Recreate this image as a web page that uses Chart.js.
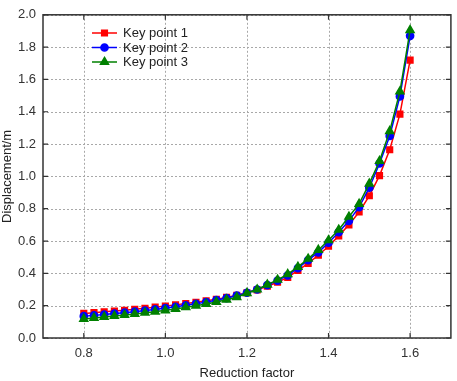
<!DOCTYPE html>
<html>
<head>
<meta charset="utf-8">
<script src="https://cdn.jsdelivr.net/npm/chart.js@4/dist/chart.umd.min.js"></script>
<style>
  html, body { margin: 0; padding: 0; background: #fff; }
  #wrap { width: 457px; height: 381px; position: relative; }
</style>
</head>
<body>
<div id="wrap"><canvas id="chart"></canvas></div>
<script>
// Data
const factors = [0.800, 0.825, 0.850, 0.875, 0.900, 0.925, 0.950, 0.975, 1.000, 1.025, 1.050,
  1.075, 1.100, 1.125, 1.150, 1.175, 1.200, 1.225, 1.250, 1.275, 1.300, 1.325, 1.350,
  1.375, 1.400, 1.425, 1.450, 1.475, 1.500, 1.525, 1.550, 1.575, 1.600];
const keyPoint1 = [0.152, 0.157, 0.162, 0.167, 0.172, 0.178, 0.184, 0.191, 0.198, 0.205, 0.213,
  0.221, 0.230, 0.240, 0.251, 0.264, 0.280, 0.298, 0.320, 0.345, 0.375, 0.418, 0.462,
  0.512, 0.568, 0.632, 0.700, 0.780, 0.880, 1.005, 1.165, 1.385, 1.720];
const keyPoint2 = [0.135, 0.140, 0.145, 0.151, 0.157, 0.163, 0.170, 0.177, 0.185, 0.193, 0.202,
  0.212, 0.222, 0.234, 0.247, 0.262, 0.280, 0.300, 0.327, 0.355, 0.388, 0.432, 0.482,
  0.530, 0.590, 0.655, 0.725, 0.810, 0.930, 1.080, 1.250, 1.495, 1.870];
const keyPoint3 = [0.118, 0.124, 0.130, 0.136, 0.142, 0.149, 0.156, 0.163, 0.171, 0.180, 0.190,
  0.200, 0.211, 0.223, 0.237, 0.252, 0.278, 0.300, 0.330, 0.360, 0.395, 0.440, 0.490,
  0.545, 0.605, 0.670, 0.750, 0.830, 0.955, 1.095, 1.280, 1.525, 1.905];
const seriesNames = ['Key point 1', 'Key point 2', 'Key point 3'];
const xTicks = [0.8, 1.0, 1.2, 1.4, 1.6];
const yTicks = [0, 0.2, 0.4, 0.6, 0.8, 1.0, 1.2, 1.4, 1.6, 1.8, 2.0];

const font = "'Liberation Sans', Arial, sans-serif";

const toPoints = vals => vals.map((v, i) => ({ x: factors[i], y: v }));

// Dotted grid, drawn under the data
const gridPlugin = {
  id: 'dottedGrid',
  beforeDatasetsDraw(chart) {
    const { ctx, chartArea: a, scales } = chart;
    ctx.save();
    ctx.strokeStyle = '#a8a8a8';
    ctx.lineWidth = 1;
    ctx.setLineDash([2, 2]);
    ctx.beginPath();
    xTicks.forEach(t => {
      const px = Math.round(scales.x.getPixelForValue(t)) + 0.5;
      ctx.moveTo(px, a.top); ctx.lineTo(px, a.bottom);
    });
    yTicks.forEach(t => {
      const py = Math.round(scales.y.getPixelForValue(t)) + 0.5;
      ctx.moveTo(a.left, py); ctx.lineTo(a.right, py);
    });
    ctx.stroke();
    ctx.restore();
  }
};

// Frame with inward ticks, like the original plot
const framePlugin = {
  id: 'frame',
  afterDraw(chart) {
    const { ctx, chartArea: a, scales } = chart;
    ctx.save();
    ctx.strokeStyle = '#333';
    ctx.lineWidth = 1.5;
    ctx.strokeRect(a.left, a.top, a.right - a.left, a.bottom - a.top);
    ctx.lineWidth = 1.2;
    ctx.beginPath();
    xTicks.forEach(t => {
      const px = scales.x.getPixelForValue(t);
      ctx.moveTo(px, a.bottom); ctx.lineTo(px, a.bottom - 5);
      ctx.moveTo(px, a.top); ctx.lineTo(px, a.top + 5);
    });
    yTicks.forEach(t => {
      const py = scales.y.getPixelForValue(t);
      ctx.moveTo(a.left, py); ctx.lineTo(a.left + 5, py);
      ctx.moveTo(a.right, py); ctx.lineTo(a.right - 5, py);
    });
    ctx.stroke();
    ctx.restore();
  }
};

// Legend drawn inside the plot, top left
const legendPlugin = {
  id: 'innerLegend',
  afterDraw(chart) {
    const { ctx } = chart;
    const x0 = 92, x1 = 117, textX = 123;
    const rows = [33, 47.5, 62];
    ctx.save();
    chart.data.datasets.forEach((ds, i) => {
      const y = rows[i];
      ctx.strokeStyle = ds.borderColor;
      ctx.lineWidth = 1.5;
      ctx.beginPath();
      ctx.moveTo(x0, y); ctx.lineTo(x1, y);
      ctx.stroke();
      ctx.fillStyle = ds.backgroundColor;
      ctx.strokeStyle = ds.borderColor;
      Chart.helpers.drawPoint(ctx, {
        pointStyle: ds.pointStyle, radius: ds.pointRadius, borderWidth: 1
      }, (x0 + x1) / 2, y);
      ctx.fillStyle = '#222';
      ctx.font = '13px ' + font;
      ctx.textBaseline = 'middle';
      ctx.textAlign = 'left';
      ctx.fillText(seriesNames[i], textX, y + 0.5);
    });
    ctx.restore();
  }
};

const ctx = document.getElementById('chart').getContext('2d');
new Chart(ctx, {
  type: 'line',
  data: {
    datasets: [
      { label: seriesNames[0], data: toPoints(keyPoint1), borderColor: '#ff0000', backgroundColor: '#ff0000',
        pointStyle: 'rect', pointRadius: 4, borderWidth: 1.5, order: 3 },
      { label: seriesNames[1], data: toPoints(keyPoint2), borderColor: '#0000ff', backgroundColor: '#0000ff',
        pointStyle: 'circle', pointRadius: 3.6, borderWidth: 1.5, order: 2 },
      { label: seriesNames[2], data: toPoints(keyPoint3), borderColor: '#008000', backgroundColor: '#008000',
        pointStyle: 'triangle', pointRadius: 4.6, borderWidth: 1.5, order: 1 }
    ]
  },
  options: {
    responsive: true,
    maintainAspectRatio: false,
    animation: false,
    layout: { padding: { top: 8, right: 4, left: 0, bottom: 0 } },
    plugins: { legend: { display: false }, tooltip: { enabled: false } },
    elements: { point: { borderWidth: 1 }, line: { tension: 0 } },
    scales: {
      x: {
        type: 'linear', min: 0.7, max: 1.7,
        afterBuildTicks: s => { s.ticks = xTicks.map(v => ({ value: v })); },
        afterFit: s => { s.height = 43; },
        grid: { display: false, drawTicks: false },
        border: { display: false },
        ticks: { padding: 8, color: '#333', font: { family: font, size: 13 },
          callback: v => v.toFixed(1) },
        title: { display: true, text: 'Reduction factor', color: '#222',
          font: { family: font, size: 13 }, padding: { top: 0, bottom: 0 } }
      },
      y: {
        type: 'linear', min: 0, max: 2.0,
        afterBuildTicks: s => { s.ticks = yTicks.map(v => ({ value: v })); },
        afterFit: s => { s.width = 43; },
        grid: { display: false, drawTicks: false },
        border: { display: false },
        ticks: { padding: 7, color: '#333', font: { family: font, size: 13 },
          callback: v => v.toFixed(1) },
        title: { display: true, text: 'Displacement/m', color: '#222',
          font: { family: font, size: 13 }, padding: { top: 0, bottom: 0 } }
      }
    }
  },
  plugins: [gridPlugin, framePlugin, legendPlugin]
});
</script>
</body>
</html>
